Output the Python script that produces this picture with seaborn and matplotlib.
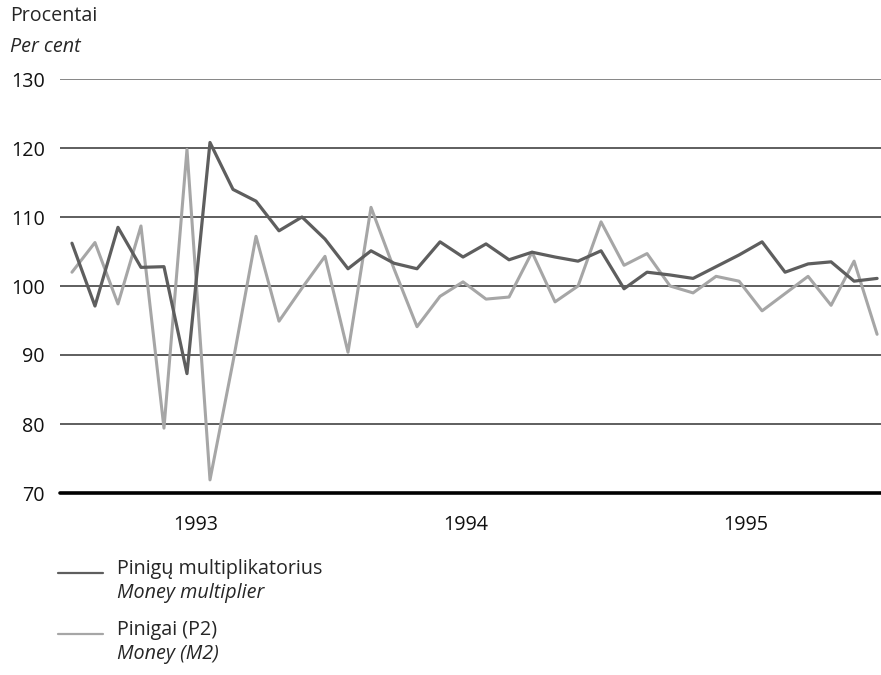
import matplotlib
matplotlib.use('Agg')
import matplotlib.pyplot as plt
import matplotlib.lines as mlines
import pandas as pd
import seaborn as sns

# Monthly data, Jan 1993 - Dec 1995
months = pd.date_range('1993-01-01', periods=36, freq='MS')
multiplier = [106.2, 97.1, 108.5, 102.7, 102.8, 87.3, 120.8, 114.0, 112.3, 108.0, 110.0, 106.8,
              102.5, 105.1, 103.3, 102.5, 106.4, 104.2, 106.1, 103.8, 104.9, 104.2, 103.6, 105.1,
              99.6, 102.0, 101.6, 101.1, 102.8, 104.5, 106.4, 102.0, 103.2, 103.5, 100.7, 101.1]
money_m2 = [102.0, 106.3, 97.4, 108.7, 79.4, 119.8, 71.9, 89.0, 107.2, 94.9, 99.7, 104.3,
            90.4, 111.4, 102.5, 94.1, 98.5, 100.6, 98.1, 98.4, 104.9, 97.7, 100.0, 109.3,
            103.0, 104.7, 100.0, 99.0, 101.4, 100.7, 96.4, 98.9, 101.4, 97.2, 103.6, 93.0]
year_labels = ['1993', '1994', '1995']
year_pos = [5.4, 17.1, 29.3]
y_ticks = [70, 80, 90, 100, 110, 120, 130]

dark = '#5e5e5e'
light = '#a6a6a6'
fs = 14.2

sns.set_style('white')
plt.rcParams['font.family'] = ['Open Sans', 'DejaVu Sans']

df = pd.DataFrame({'idx': range(len(months)), 'multiplier': multiplier, 'm2': money_m2})

fig = plt.figure(figsize=(8.81, 6.75), dpi=100)
ax = fig.add_axes([60 / 881, 1 - 493 / 675, 821 / 881, 414 / 675])

sns.lineplot(data=df, x='idx', y='m2', ax=ax, color=light, linewidth=2.2)
sns.lineplot(data=df, x='idx', y='multiplier', ax=ax, color=dark, linewidth=2.3)

ax.set_xlim(-0.52, 35.17)
ax.set_ylim(70, 130)
ax.set_yticks(y_ticks)
ax.set_yticklabels([str(v) for v in y_ticks])
ax.set_xticks(year_pos)
ax.set_xticklabels(year_labels)
ax.tick_params(axis='both', length=0, labelsize=fs, colors='#111111')
ax.tick_params(axis='y', pad=11)
ax.tick_params(axis='x', pad=16)
ax.set_xlabel('')
ax.set_ylabel('')

for s in ax.spines.values():
    s.set_visible(False)
for v in y_ticks[1:]:
    ax.axhline(v, color='#333333' if v < 130 else '#666666', linewidth=1.1, zorder=0)
ax.axhline(70, color='black', linewidth=2.6, zorder=3, clip_on=False)

fig.text(10 / 881, 1 - 16 / 675, 'Procentai', fontsize=fs, va='center', ha='left')
fig.text(10 / 881, 1 - 47 / 675, 'Per cent', fontsize=fs, va='center', ha='left', style='italic')

# legend
for yy, col, lab, lab_en in [(573, dark, 'Pinigų multiplikatorius', 'Money multiplier'),
                             (634, light, 'Pinigai (P2)', 'Money (M2)')]:
    fig.add_artist(mlines.Line2D([58 / 881, 103 / 881], [1 - yy / 675, 1 - yy / 675],
                                 color=col, linewidth=1.6))
    fig.text(117 / 881, 1 - (yy - 4) / 675, lab, fontsize=fs, va='center', ha='left')
    fig.text(117 / 881, 1 - (yy + 20) / 675, lab_en, fontsize=fs, va='center', ha='left', style='italic')

fig.savefig('out.png', dpi=100)
